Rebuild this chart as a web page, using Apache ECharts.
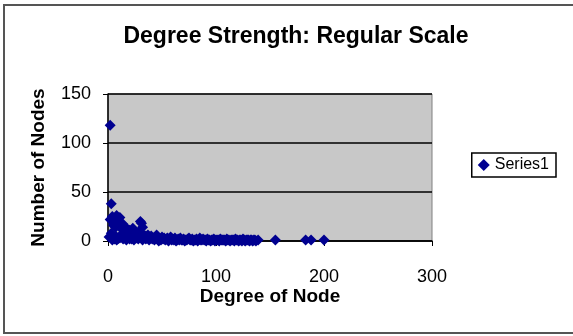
<!DOCTYPE html>
<html><head><meta charset="utf-8">
<script src="https://cdn.jsdelivr.net/npm/echarts@6/dist/echarts.min.js"></script>
<style>html,body{margin:0;padding:0;background:#fff}#c{width:573px;height:336px}</style>
</head><body><div id="c"></div>
<script>
var degrees = [2,3,2,4,5,6,7,8,9,10,11,12,13,14,15,16,17,18,19,20,21,22,23,24,25,26,27,28,29,30,31,32,33,34,35,36,37,38,39,40,42,44,45,46,48,50,52,54,55,57,58,60,62,64,65,67,68,70,72,74,75,77,78,80,82,84,85,87,88,90,92,94,96,98,100,102,104,106,108,110,112,114,116,118,120,122,125,128,130,133,136,155,183,188,200,
  1,3,5,7,9,12,15,18,22,26,4,6,8,11,14,17,20,24,28,32,35,38,41,43,47,49,51,53,56,59,61,63,66,69,71,73,76,79,81,83,86,89,91,93,95,97,99,101,103,105,107,109,111,113,115,117,119,121,123,124,126,127,129,131,132,134,135,137,139];
var counts  = [118,38,22,25,16,20,14,26,22,18,24,15,12,17,10,14,9,12,8,11,7,9,13,6,10,8,5,7,9,20,18,14,6,4,5,3,6,4,3,5,3,4,6,3,2,4,3,2,3,2,4,2,3,1,2,3,1,2,1,2,3,1,2,1,2,1,3,1,2,1,2,1,1,2,1,1,2,1,1,2,1,1,1,2,1,1,2,1,1,1,1,1,1,1,1,
  4,8,3,5,2,6,3,4,2,3,1,2,1,3,2,1,2,1,2,1,2,1,2,1,0,1,2,1,0,1,1,0,1,1,0,1,1,0,1,0,1,1,0,1,0,1,0,1,0,1,1,0,1,0,1,0,1,0,1,0,1,0,1,0,1,0,1,0,1];
var yTicks = [0,50,100,150];
var xTicks = [0,100,200,300];
var seriesData = degrees.map(function(d,i){return [d,counts[i]];});
var chart = echarts.init(document.getElementById('c'));
var F = 'Liberation Sans, Arial, sans-serif';
chart.setOption({
  animation:false,
  title:{text:'Degree Strength: Regular Scale',left:291,top:20,textAlign:'center',
    textStyle:{fontFamily:F,fontSize:23,fontWeight:'bold',color:'#000'}},
  graphic:[{type:'rect',shape:{x:4,y:5,width:575,height:328},style:{fill:'none',stroke:'#555',lineWidth:2},z:-10}],
  legend:{right:17,top:153,orient:'vertical',itemWidth:12,itemHeight:12,itemGap:4,
    padding:[4,7,4,6],borderColor:'#000',borderWidth:1.5,
    textStyle:{fontFamily:F,fontSize:16,color:'#000'},data:['Series1']},
  grid:{left:108,right:141,top:94,bottom:95,show:true,backgroundColor:'#c8c8c8',borderColor:'#808080',borderWidth:1},
  xAxis:{type:'value',min:xTicks[0],max:xTicks[xTicks.length-1],interval:100,
    name:'Degree of Node',nameLocation:'middle',nameGap:43,
    nameTextStyle:{fontFamily:F,fontSize:19,fontWeight:'bold',color:'#000'},
    axisLine:{show:true,lineStyle:{color:'#000',width:1.5}},
    axisTick:{show:true,inside:false,length:5,lineStyle:{color:'#000'}},
    axisLabel:{fontFamily:F,fontSize:18,color:'#000',margin:27},
    splitLine:{show:false}},
  yAxis:{type:'value',min:yTicks[0],max:yTicks[yTicks.length-1],interval:50,
    name:'Number of Nodes',nameLocation:'middle',nameGap:60,
    nameTextStyle:{fontFamily:F,fontSize:19,fontWeight:'bold',color:'#000'},
    axisLine:{show:true,lineStyle:{color:'#000',width:1.5}},
    axisTick:{show:true,inside:false,length:5,lineStyle:{color:'#000'}},
    axisLabel:{fontFamily:F,fontSize:18,color:'#000',margin:17},
    splitLine:{show:true,lineStyle:{color:'#000',width:1.5}}},
  series:[{name:'Series1',type:'scatter',symbol:'diamond',symbolSize:11,
    itemStyle:{color:'#000090',opacity:1},data:seriesData}]
});
</script></body></html>
